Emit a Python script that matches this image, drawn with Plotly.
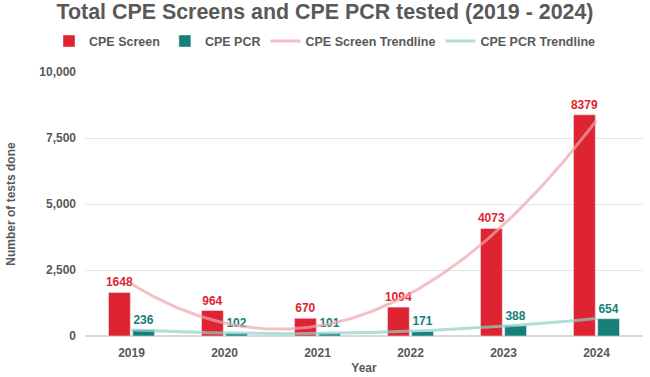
import numpy as np
import plotly.graph_objects as go

years = [2019, 2020, 2021, 2022, 2023, 2024]
cpe_screen = [1648, 964, 670, 1094, 4073, 8379]
cpe_pcr = [236, 102, 101, 171, 388, 654]
y_ticks = [0, 2500, 5000, 7500, 10000]
y_tick_labels = ["0", "2,500", "5,000", "7,500", "10,000"]

RED = "#DE2430"
TEAL = "#157F78"
GRAY = "#595959"
FONT = "Liberation Sans, Arial, sans-serif"

# polynomial (order 2) trendlines, as in the source spreadsheet
xs = np.array(years, dtype=float)
grid = np.linspace(xs[0], xs[-1], 200)
screen_fit = np.polyval(np.polyfit(xs - 2019, cpe_screen, 2), grid - 2019)
pcr_fit = np.polyval(np.polyfit(xs - 2019, cpe_pcr, 2), grid - 2019)

fig = go.Figure()
fig.add_trace(go.Bar(
    x=years, y=cpe_screen, name="CPE Screen", marker_color=RED,
    text=[str(v) for v in cpe_screen], textposition="outside", constraintext="none",
    textfont=dict(color=RED, size=12, family=FONT, weight="bold"),
    cliponaxis=False,
))
fig.add_trace(go.Bar(
    x=years, y=cpe_pcr, name="CPE PCR", marker_color=TEAL,
    text=[str(v) for v in cpe_pcr], textposition="outside", constraintext="none",
    textfont=dict(color=TEAL, size=12, family=FONT, weight="bold"),
    cliponaxis=False,
))
fig.add_trace(go.Scatter(
    x=grid, y=screen_fit, mode="lines", name="CPE Screen Trendline",
    line=dict(color="rgba(240,165,172,0.7)", width=3),
))
fig.add_trace(go.Scatter(
    x=grid, y=pcr_fit, mode="lines", name="CPE PCR Trendline",
    line=dict(color="rgba(145,208,203,0.7)", width=3),
))

fig.update_layout(
    width=650, height=377,
    margin=dict(l=85, r=7, t=72, b=41, autoexpand=False),
    paper_bgcolor="white", plot_bgcolor="white",
    font=dict(family=FONT, color=GRAY, size=12),
    title=dict(text="<b>Total CPE Screens and CPE PCR tested (2019 - 2024)</b>",
               x=0.5, xanchor="center", y=0.99, yanchor="top",
               font=dict(size=21.4, color=GRAY, family=FONT)),
    legend=dict(orientation="h", x=0.5, xref="container", xanchor="center",
                y=0.93, yref="container", yanchor="top",
                font=dict(size=12.5, color=GRAY, family=FONT, weight="bold"),
                itemwidth=30, tracegroupgap=0),
    barmode="group", bargap=0.48, bargroupgap=0.1,
    showlegend=True,
)
fig.update_xaxes(
    range=[2018.5, 2024.5], tickvals=years, ticktext=[str(y) for y in years],
    showgrid=False, zeroline=False, showline=False, ticks="",
    ticklabelstandoff=8,
    tickfont=dict(size=12, color=GRAY, family=FONT, weight="bold"),
    title=dict(text="Year", font=dict(size=12, color=GRAY, family=FONT, weight="bold"), standoff=4),
)
fig.update_yaxes(
    range=[0, 10000], tickvals=y_ticks, ticktext=y_tick_labels,
    showgrid=True, gridcolor="#E6E6E6", gridwidth=1, zeroline=True, zerolinecolor="#D9D9D9",
    tickfont=dict(size=12, color=GRAY, family=FONT, weight="bold"),
    ticklabelstandoff=8,
    title=dict(text="Number of tests done", font=dict(size=12, color=GRAY, family=FONT, weight="bold"), standoff=21),
)

fig.write_html("out.html")
